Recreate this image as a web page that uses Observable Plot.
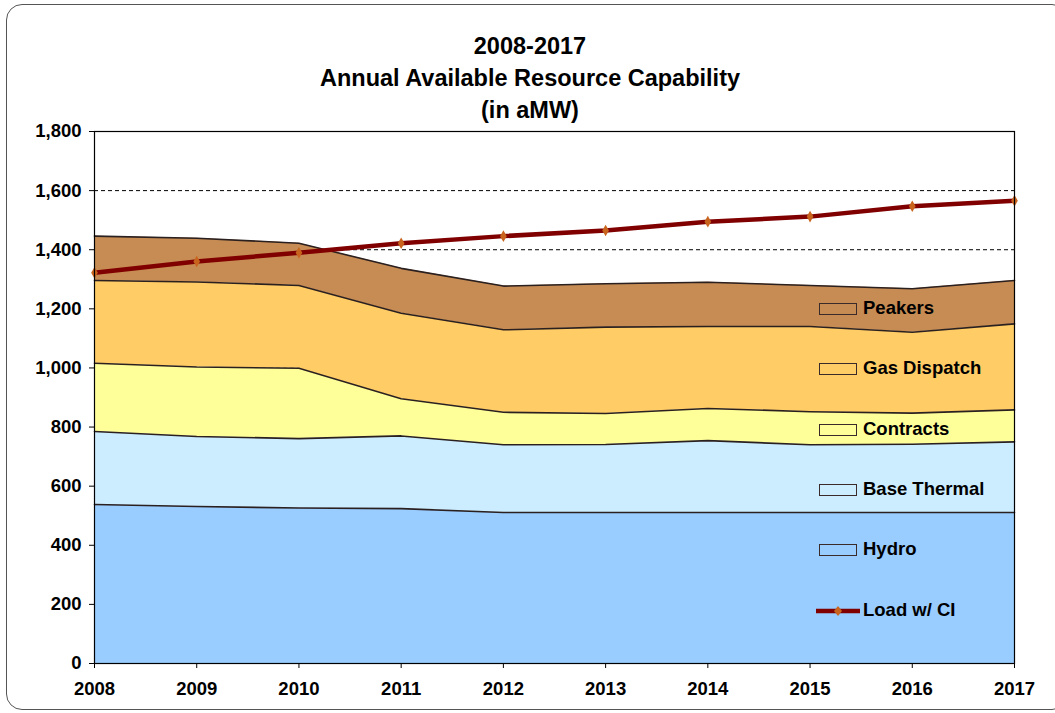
<!DOCTYPE html>
<html>
<head>
<meta charset="utf-8">
<script src="https://cdn.jsdelivr.net/npm/d3@7"></script>
<script src="https://cdn.jsdelivr.net/npm/@observablehq/plot@0.6"></script>
<style>
  html, body { margin: 0; padding: 0; background: #fff; }
  body { width: 1055px; height: 713px; position: relative; overflow: hidden; font-family: "Liberation Sans", Arial, sans-serif; }
  #frame { position: absolute; left: 6px; top: 4px; width: 1060px; height: 704px; border: 1.5px solid #555; border-radius: 16px; pointer-events: none; }
  #title { position: absolute; left: 0; top: 0; width: 1060px; height: 115px; text-align: center; font-weight: bold; font-size: 23.5px; line-height: 32px; padding-top: 30px; box-sizing: border-box; color: #000; }
  #chart { position: absolute; left: 0; top: 115px; }
  #legend { position: absolute; left: 819px; top: 297px; font-weight: bold; font-size: 18.5px; color: #000; }
  .row { position: absolute; left: 0; white-space: nowrap; height: 22px; }
  .sw { position: absolute; left: 0; top: 6px; width: 36px; height: 10px; border: 1.5px solid #3a2a2a; }
  .lab { position: absolute; left: 44px; top: 0; line-height: 22px; }
</style>
</head>
<body>
<div id="title">2008-2017<br>Annual Available Resource Capability<br>(in aMW)</div>
<div id="chart"></div>
<div id="legend"></div>
<div id="frame"></div>
<script>
const years = [2008, 2009, 2010, 2011, 2012, 2013, 2014, 2015, 2016, 2017];
const hydro = [538, 531, 526, 524, 511, 511, 511, 511, 511, 511];
const baseThermal = [247, 237, 235, 246, 229, 230, 243, 229, 231, 239];
const contracts = [231, 235, 238, 126, 110, 105, 109, 112, 105, 108];
const gasDispatch = [280, 288, 280, 289, 279, 292, 277, 288, 274, 291];
const peakers = [150, 148, 143, 152, 148, 147, 150, 139, 147, 147];
const loadWithCI = [1322, 1360, 1390, 1422, 1446, 1465, 1495, 1512, 1547, 1566];
const yTicks = [0, 200, 400, 600, 800, 1000, 1200, 1400, 1600, 1800];

const seriesNames = ["Hydro", "Base Thermal", "Contracts", "Gas Dispatch", "Peakers"];
const seriesValues = [hydro, baseThermal, contracts, gasDispatch, peakers];
const seriesColors = ["#99CCFF", "#CCECFF", "#FFFF99", "#FFCC66", "#C68C53"];

const stackData = [];
seriesNames.forEach((name, i) => {
  years.forEach((yr, j) => stackData.push({ year: yr, series: name, value: seriesValues[i][j] }));
});
const loadData = years.map((yr, j) => ({ year: yr, load: loadWithCI[j] }));

const plot = Plot.plot({
  width: 1055,
  height: 598,
  marginTop: 16,
  marginLeft: 94,
  marginRight: 41,
  marginBottom: 50,
  style: { fontFamily: "'Liberation Sans', Arial, sans-serif", fontSize: "18.5px", fontWeight: "bold", color: "#000", background: "transparent", overflow: "visible" },
  x: { domain: [2008, 2017], ticks: years, tickFormat: d => String(d), label: null, tickSize: 5, tickPadding: 13 },
  y: { domain: [0, 1800], ticks: yTicks, tickFormat: d3.format(","), label: null, tickSize: 5, tickPadding: 8 },
  color: { domain: seriesNames, range: seriesColors },
  marks: [
    Plot.ruleY(yTicks, { stroke: "#000", strokeWidth: 1, strokeDasharray: "4,3" }),
    Plot.areaY(stackData, Plot.stackY({ x: "year", y: "value", z: "series", fill: "series", order: null })),
    Plot.lineY(stackData, Plot.stackY2({ x: "year", y: "value", z: "series", order: null, stroke: "#2b2020", strokeWidth: 1.6 })),
    Plot.lineY(loadData, { x: "year", y: "load", stroke: "#800000", strokeWidth: 4.5 }),
    Plot.dot(loadData, { x: "year", y: "load", symbol: "diamond", r: 3.5, fill: "#C8641E", stroke: "none" }),
    Plot.frame({ stroke: "#000", strokeWidth: 1.2 })
  ]
});
document.getElementById("chart").appendChild(plot);

// Legend
const legend = document.getElementById("legend");
const legendItems = [
  { name: "Peakers", color: "#C68C53" },
  { name: "Gas Dispatch", color: "#FFCC66" },
  { name: "Contracts", color: "#FFFF99" },
  { name: "Base Thermal", color: "#CCECFF" },
  { name: "Hydro", color: "#99CCFF" },
  { name: "Load w/ CI", color: null }
];
legendItems.forEach((it, i) => {
  const row = document.createElement("div");
  row.className = "row";
  row.style.top = (i * 60.3) + "px";
  if (it.color) {
    const sw = document.createElement("div");
    sw.className = "sw";
    sw.style.background = it.color;
    row.appendChild(sw);
  } else {
    const ns = "http://www.w3.org/2000/svg";
    const svg = document.createElementNS(ns, "svg");
    svg.setAttribute("width", "44");
    svg.setAttribute("height", "22");
    svg.style.position = "absolute";
    svg.style.left = "-3px";
    svg.style.top = "0px";
    const ln = document.createElementNS(ns, "line");
    ln.setAttribute("x1", "0"); ln.setAttribute("x2", "44");
    ln.setAttribute("y1", "12"); ln.setAttribute("y2", "12");
    ln.setAttribute("stroke", "#800000"); ln.setAttribute("stroke-width", "4.5");
    svg.appendChild(ln);
    const dm = document.createElementNS(ns, "path");
    dm.setAttribute("d", "M22,7 L26,12 L22,17 L18,12 Z");
    dm.setAttribute("fill", "#C8641E");
    svg.appendChild(dm);
    row.appendChild(svg);
  }
  const lab = document.createElement("div");
  lab.className = "lab";
  lab.textContent = it.name;
  row.appendChild(lab);
  legend.appendChild(row);
});
</script>
</body>
</html>
